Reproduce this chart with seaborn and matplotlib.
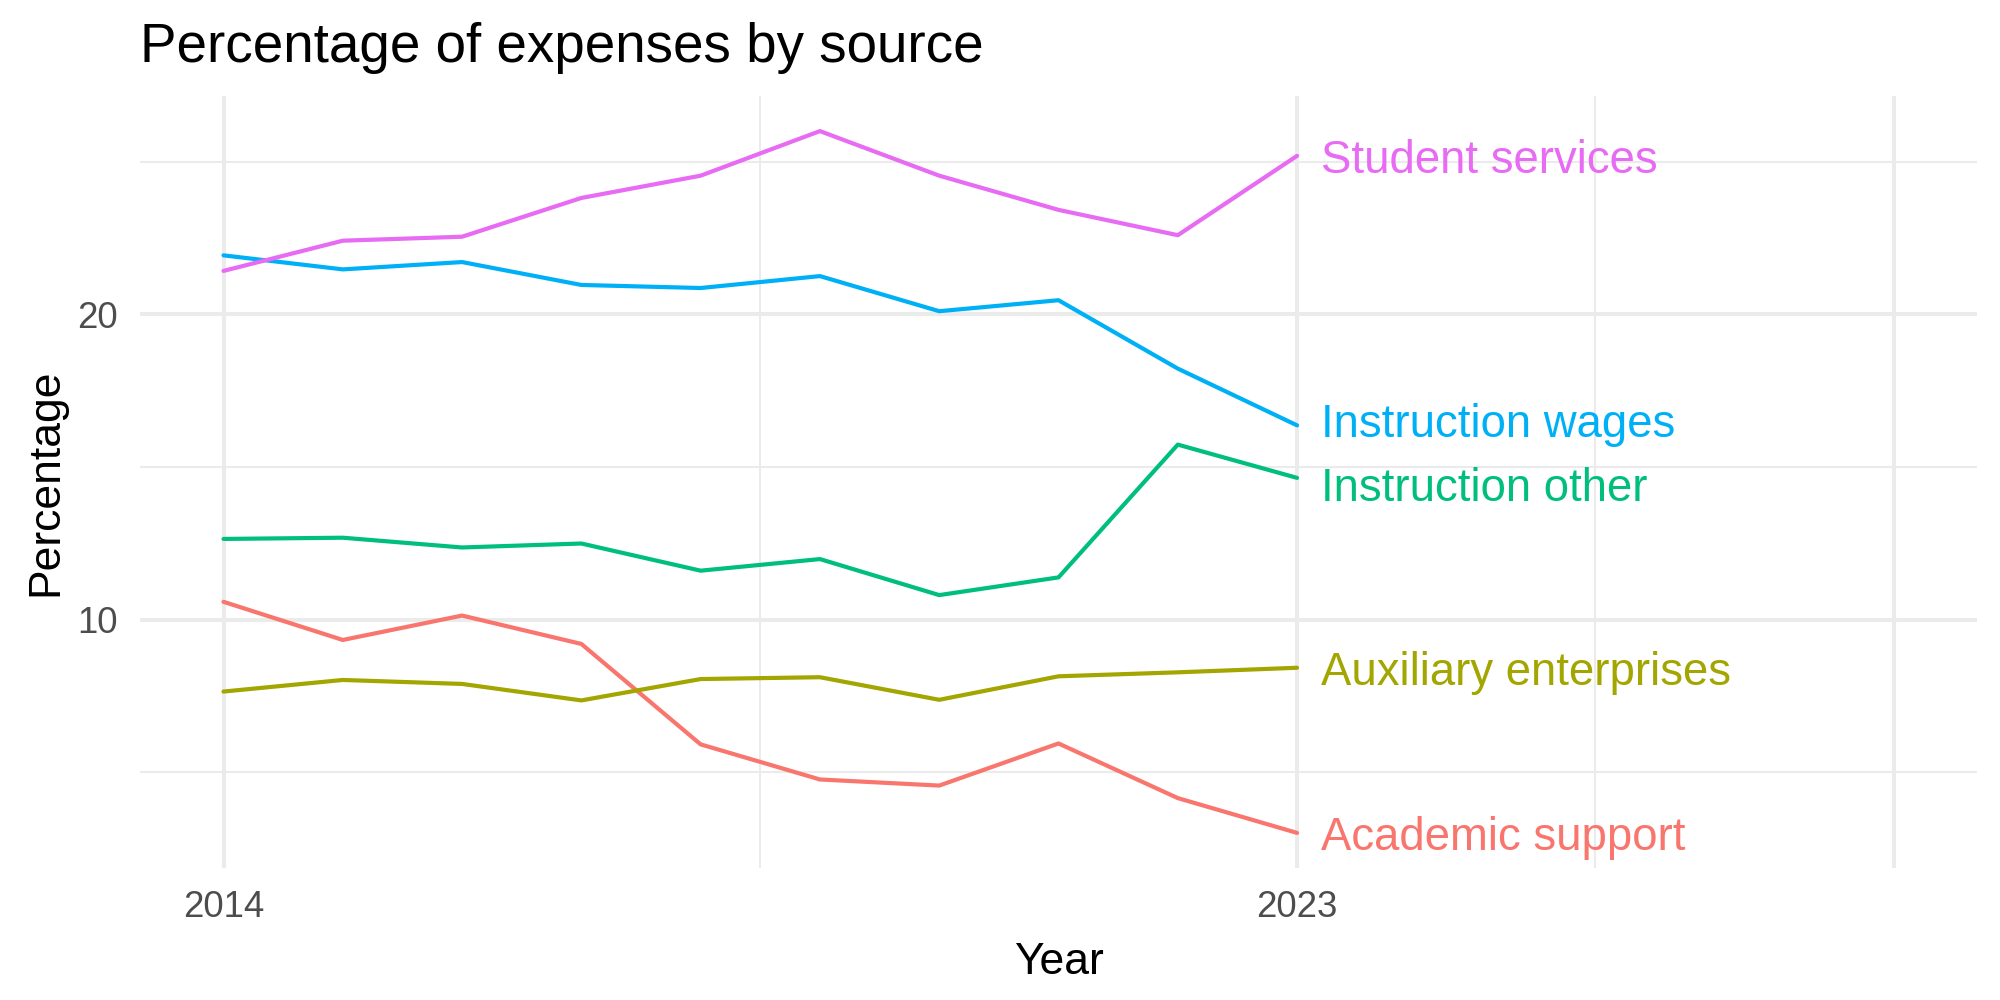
import matplotlib
matplotlib.use("Agg")
import matplotlib.pyplot as plt
import seaborn as sns
import pandas as pd
import numpy as np

years = [2014, 2015, 2016, 2017, 2018, 2019, 2020, 2021, 2022, 2023]
academic_support = [10.58, 9.33, 10.13, 9.20, 5.91, 4.76, 4.56, 5.94, 4.15, 3.01]
auxiliary_enterprises = [7.64, 8.02, 7.89, 7.35, 8.05, 8.11, 7.37, 8.14, 8.27, 8.42]
instruction_other = [12.64, 12.68, 12.36, 12.49, 11.60, 11.98, 10.80, 11.38, 15.73, 14.64]
instruction_wages = [21.93, 21.47, 21.71, 20.96, 20.86, 21.25, 20.10, 20.46, 18.22, 16.36]
student_services = [21.42, 22.41, 22.54, 23.81, 24.54, 26.00, 24.54, 23.42, 22.59, 25.19]

sources = ["Academic support", "Auxiliary enterprises", "Instruction other",
           "Instruction wages", "Student services"]
series = [academic_support, auxiliary_enterprises, instruction_other,
          instruction_wages, student_services]
colors = ["#F8766D", "#A3A500", "#00BF7D", "#00B0F6", "#E76BF3"]

x_breaks = [2014, 2023, 2028]
x_labels = ["2014", "2023", ""]
y_breaks = [10, 20]
y_labels = ["10", "20"]

df = pd.DataFrame({
    "Year": years * len(sources),
    "Percentage": sum(series, []),
    "Source": [s for s in sources for _ in years],
})

sns.set_theme(style="white")
plt.rcParams["font.family"] = ["Liberation Sans", "DejaVu Sans"]

fig = plt.figure(figsize=(10, 5), dpi=200)
ax = fig.add_axes([0.07, 0.132, 0.9185, 0.772])

palette = dict(zip(sources, colors))
sns.lineplot(data=df, x="Year", y="Percentage", hue="Source", palette=palette,
             linewidth=1.5, legend=False, ax=ax, zorder=3)

# direct labels with simple vertical repel
last = [(s[-1], name) for s, name in zip(series, sources)]
last_sorted = sorted(last)
pos = [v for v, _ in last_sorted]
min_gap = 2.1
for _ in range(50):
    for i in range(1, len(pos)):
        if pos[i] - pos[i - 1] < min_gap:
            mid = (pos[i] + pos[i - 1]) / 2
            pos[i - 1] = mid - min_gap / 2
            pos[i] = mid + min_gap / 2
for (v, name), p in zip(last_sorted, pos):
    ax.text(years[-1] + 0.2, p, name, color=palette[name], fontsize=16.4,
            ha="left", va="center_baseline", zorder=4)

ax.set_xlim(2013.3, 2028.7)
ax.set_ylim(1.86, 27.15)
ax.set_xticks(x_breaks)
ax.set_xticklabels(x_labels)
ax.set_xticks([2018.5, 2025.5], minor=True)
ax.set_yticks(y_breaks)
ax.set_yticklabels(y_labels)
ax.set_yticks([5, 15, 25], minor=True)

ax.grid(which="major", color="#EBEBEB", linewidth=1.45, zorder=0)
ax.grid(which="minor", color="#EBEBEB", linewidth=0.75, zorder=0)
ax.set_axisbelow(True)
for sp in ax.spines.values():
    sp.set_visible(False)
ax.tick_params(which="both", length=0, labelsize=13.2, labelcolor="#4D4D4D", pad=8)

ax.set_xlabel("Year", fontsize=16, color="black", labelpad=6)
ax.set_ylabel("Percentage", fontsize=16, color="black", labelpad=4)
fig.text(0.07, 0.952, "Percentage of expenses by source", fontsize=19.7,
         ha="left", va="center", color="black")

fig.savefig("out.png", dpi=200, facecolor="white")
